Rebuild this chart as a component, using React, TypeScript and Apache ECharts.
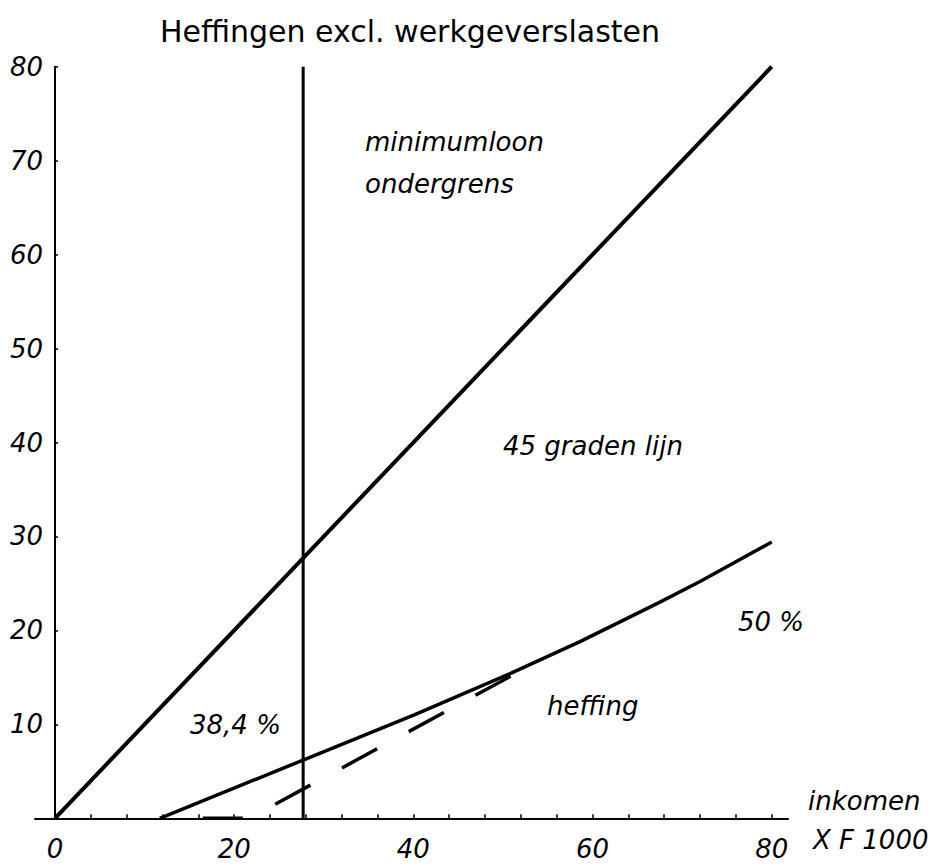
import React, { useEffect, useRef } from "react";
import * as echarts from "echarts";

// ---- data ----
const diagonalX = [0, 80];
const diagonalY = [0, 80];
const minimumloonX = 27.7;
const verticalY = [0, 80];
const heffingX = [11.7, 27.7, 40.1, 50.8, 58.6, 67.3, 72.0, 80];
const heffingY = [0, 6.2, 11.0, 15.4, 18.8, 22.9, 25.2, 29.4];
const dashedX = [16.5, 21.7, 51.0];
const dashedY = [0, 0, 15.2];
const xTickValues = [0, 4, 8, 12, 16, 20, 24, 28, 32, 36, 40, 44, 48, 52, 56, 60, 64, 68, 72, 76, 80];
const xLabelValues = [0, 20, 40, 60, 80];
const yLabelValues = [10, 20, 30, 40, 50, 60, 70, 80];
const titleText = "Heffingen excl. werkgeverslasten";
const annotations = [
  { text: "minimumloon", x: 365, y: 142 },
  { text: "ondergrens", x: 365, y: 184 },
  { text: "45 graden lijn", x: 503, y: 446 },
  { text: "38,4 %", x: 190, y: 725 },
  { text: "heffing", x: 547, y: 706 },
  { text: "50 %", x: 738, y: 622 },
  { text: "inkomen", x: 808, y: 801 },
  { text: "X F 1000", x: 813, y: 840 },
];

const zip = (xs: number[], ys: number[]) => xs.map((x, i) => [x, ys[i]]);

const FONT = "DejaVu Sans";

export default function App() {
  const ref = useRef<HTMLDivElement>(null);
  useEffect(() => {
    if (!ref.current) return;
    const chart = echarts.init(ref.current, null, { renderer: "svg" });
    const lineBase = { type: "line" as const, symbol: "none", silent: true, z: 3 };
    chart.setOption({
      animation: false,
      backgroundColor: "#ffffff",
      grid: [
        { left: 55, right: 165.3, top: 66.7, bottom: 47.7, containLabel: false, outerBoundsMode: "none" },
        // wider grid that only carries the extended horizontal axis line
        { left: 35, right: 149, top: 66.7, bottom: 47.7, containLabel: false, outerBoundsMode: "none" },
      ],
      xAxis: [
        {
          type: "value",
          gridIndex: 0,
          min: 0,
          max: 80,
          splitLine: { show: false },
          axisLine: { show: false },
          axisTick: { show: true, inside: true, length: 4, customValues: xTickValues, lineStyle: { color: "#000", width: 1.5 } },
          axisLabel: {
            customValues: xLabelValues,
            margin: 18,
            fontFamily: FONT,
            fontStyle: "italic",
            fontSize: 26,
            color: "#000",
          },
        },
        {
          type: "value",
          gridIndex: 1,
          min: -2.23,
          max: 81.8,
          splitLine: { show: false },
          axisLine: { show: true, lineStyle: { color: "#000", width: 2 } },
          axisTick: { show: false },
          axisLabel: { show: false },
        },
      ],
      yAxis: [
        {
          type: "value",
          gridIndex: 0,
          min: 0,
          max: 80,
          interval: 10,
          splitLine: { show: false },
          axisLine: { show: true, onZero: false, lineStyle: { color: "#000", width: 2 } },
          axisTick: { show: true, inside: true, length: 3, customValues: yLabelValues, lineStyle: { color: "#000", width: 1.5 } },
          axisLabel: {
            customValues: yLabelValues,
            margin: 12,
            fontFamily: FONT,
            fontStyle: "italic",
            fontSize: 26,
            color: "#000",
          },
        },
        {
          type: "value",
          gridIndex: 1,
          min: 0,
          max: 80,
          show: false,
        },
      ],
      series: [
        { ...lineBase, name: "45 graden lijn", data: zip(diagonalX, diagonalY), lineStyle: { color: "#000", width: 4 } },
        { ...lineBase, name: "minimumloon", data: verticalY.map((y) => [minimumloonX, y]), lineStyle: { color: "#000", width: 3 } },
        { ...lineBase, name: "heffing", data: zip(heffingX, heffingY), lineStyle: { color: "#000", width: 3.5 } },
        {
          ...lineBase,
          name: "heffing 50%",
          data: zip(dashedX, dashedY),
          lineStyle: { color: "#000", width: 3.5, type: [40, 36], cap: "butt" },
        },
      ],
      graphic: [
        {
          type: "text",
          x: 410,
          y: 31,
          style: {
            text: titleText,
            fontFamily: FONT,
            fontSize: 30,
            fill: "#000",
            align: "center",
            verticalAlign: "middle",
          },
        },
        ...annotations.map((a) => ({
          type: "text",
          x: a.x,
          y: a.y,
          style: {
            text: a.text,
            fontFamily: FONT,
            fontStyle: "italic",
            fontSize: 26,
            fill: "#000",
            align: "left",
            verticalAlign: "middle",
          },
        })),
      ],
    });
    return () => chart.dispose();
  }, []);
  return (
    <div
      ref={ref}
      style={{ position: "fixed", left: 0, top: 0, width: 937, height: 866, background: "#fff" }}
    />
  );
}
